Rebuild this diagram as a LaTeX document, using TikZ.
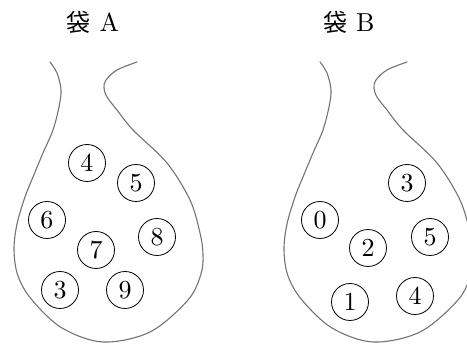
\documentclass[tikz,border=0pt]{standalone}
\usepackage{fontspec}
\newfontfamily\cjk{Noto Sans CJK JP}
\newfontfamily\lmten{lmroman10-regular.otf}
\begin{document}
\begin{tikzpicture}[x=1pt,y=1pt,
  bagline/.style={draw=black!55, line width=1.1pt, line cap=round},
  ball/.style={circle, draw=black, line width=0.8pt, minimum size=37pt, inner sep=0pt, font=\lmten\fontsize{26}{26}\selectfont},
  title/.style={font=\lmten\fontsize{26}{26}\selectfont, inner sep=0pt}]
\useasboundingbox (0,0) rectangle (467,344);
\clip (0,0) rectangle (467,344);

% outline of one bag, drawn twice
\def\bagpath{plot[smooth, tension=0.55] coordinates {
  (50,282) (57,271) (61,254) (59,237) (53,214) (43,191) (33,167) (25,147)
  (17,120) (14,94) (18,68) (32,44) (62,16) (103,2) (150,12) (188,44)
  (201,70) (203,90) (200,111) (190,144) (167,181) (133,214) (117,234)
  (107,247) (104,256) (106,264) (117,274) (137,282)}}
\draw[bagline] \bagpath;
\draw[bagline, xshift=270pt] \bagpath;

% titles
\node[title] (tA) at (93,322) {{\cjk\fontsize{24}{24}\selectfont 袋} A};
\node[title] (tB) at (349,322) {{\cjk\fontsize{24}{24}\selectfont 袋} B};

% balls in bag A
\node[ball] (a4) at (87,181) {4};
\node[ball] (a5) at (136,161) {5};
\node[ball] (a6) at (47,124) {6};
\node[ball] (a8) at (157,107) {8};
\node[ball] (a7) at (96,94) {7};
\node[ball] (a3) at (60,54) {3};
\node[ball] (a9) at (125,54) {9};

% balls in bag B
\node[ball] (b3) at (407,161) {3};
\node[ball] (b0) at (320,124) {0};
\node[ball] (b5) at (430,107) {5};
\node[ball] (b2) at (368,96) {2};
\node[ball] (b1) at (350,42) {1};
\node[ball] (b4) at (415,48) {4};
\end{tikzpicture}
\end{document}
